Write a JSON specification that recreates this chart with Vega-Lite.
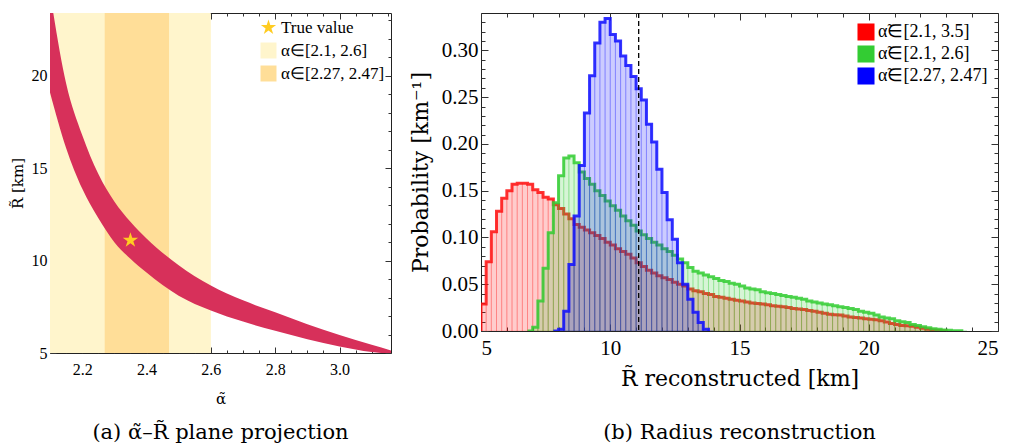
{
  "$schema": "https://vega.github.io/schema/vega-lite/v6.json",
  "padding": {"left": 9, "top": 11, "right": 2, "bottom": 2},
  "spacing": 16,
  "background": "white",
  "resolve": {"scale": {"color": "independent", "shape": "independent"}, "legend": {"color": "independent", "shape": "independent"}},
  "config": {
    "view": {"stroke": "#222", "strokeWidth": 1},
    "axis": {"grid": false, "domain": false, "tickColor": "#333", "tickWidth": 1, "labelColor": "#000", "titleColor": "#000", "titleFontWeight": "normal"}
  },
  "datasets": {
    "zones": [
      {"label": "α∈[2.1, 2.6]", "a0": 2.1, "a1": 2.6},
      {"label": "α∈[2.27, 2.47]", "a0": 2.27, "a1": 2.47}
    ],
    "truth": [{"label": "True value", "alpha": 2.35, "R": 11.1}],
    "band": [
      {"alpha": 2.1, "upper": 24.5, "lower": 19.1},
      {"alpha": 2.15, "upper": 19.6, "lower": 16.1},
      {"alpha": 2.2, "upper": 16.8, "lower": 13.9},
      {"alpha": 2.25, "upper": 14.7, "lower": 12.3},
      {"alpha": 2.3, "upper": 13.2, "lower": 11.0},
      {"alpha": 2.35, "upper": 12.1, "lower": 10.1},
      {"alpha": 2.4, "upper": 11.2, "lower": 9.35},
      {"alpha": 2.5, "upper": 9.75, "lower": 8.1},
      {"alpha": 2.6, "upper": 8.65, "lower": 7.3},
      {"alpha": 2.7, "upper": 7.85, "lower": 6.7},
      {"alpha": 2.8, "upper": 7.2, "lower": 6.2},
      {"alpha": 2.9, "upper": 6.55, "lower": 5.75},
      {"alpha": 3.0, "upper": 5.97, "lower": 5.35},
      {"alpha": 3.1, "upper": 5.45, "lower": 5.05},
      {"alpha": 3.16, "upper": 5.14, "lower": 4.96}
    ],
    "hist": [
      {"s": "α̃∈[2.1, 3.5]", "x0": 4.8, "x1": 5.0, "v": 0},
      {"s": "α̃∈[2.1, 3.5]", "x0": 5.0, "x1": 5.2, "v": 0.029},
      {"s": "α̃∈[2.1, 3.5]", "x0": 5.2, "x1": 5.4, "v": 0.074},
      {"s": "α̃∈[2.1, 3.5]", "x0": 5.4, "x1": 5.6, "v": 0.106},
      {"s": "α̃∈[2.1, 3.5]", "x0": 5.6, "x1": 5.8, "v": 0.128},
      {"s": "α̃∈[2.1, 3.5]", "x0": 5.8, "x1": 6.0, "v": 0.142},
      {"s": "α̃∈[2.1, 3.5]", "x0": 6.0, "x1": 6.2, "v": 0.150},
      {"s": "α̃∈[2.1, 3.5]", "x0": 6.2, "x1": 6.4, "v": 0.157},
      {"s": "α̃∈[2.1, 3.5]", "x0": 6.4, "x1": 6.6, "v": 0.158},
      {"s": "α̃∈[2.1, 3.5]", "x0": 6.6, "x1": 6.8, "v": 0.158},
      {"s": "α̃∈[2.1, 3.5]", "x0": 6.8, "x1": 7.0, "v": 0.157},
      {"s": "α̃∈[2.1, 3.5]", "x0": 7.0, "x1": 7.2, "v": 0.151},
      {"s": "α̃∈[2.1, 3.5]", "x0": 7.2, "x1": 7.4, "v": 0.148},
      {"s": "α̃∈[2.1, 3.5]", "x0": 7.4, "x1": 7.6, "v": 0.143},
      {"s": "α̃∈[2.1, 3.5]", "x0": 7.6, "x1": 7.8, "v": 0.141},
      {"s": "α̃∈[2.1, 3.5]", "x0": 7.8, "x1": 8.0, "v": 0.135},
      {"s": "α̃∈[2.1, 3.5]", "x0": 8.0, "x1": 8.2, "v": 0.131},
      {"s": "α̃∈[2.1, 3.5]", "x0": 8.2, "x1": 8.4, "v": 0.125},
      {"s": "α̃∈[2.1, 3.5]", "x0": 8.4, "x1": 8.6, "v": 0.120},
      {"s": "α̃∈[2.1, 3.5]", "x0": 8.6, "x1": 8.8, "v": 0.114},
      {"s": "α̃∈[2.1, 3.5]", "x0": 8.8, "x1": 9.0, "v": 0.111},
      {"s": "α̃∈[2.1, 3.5]", "x0": 9.0, "x1": 9.2, "v": 0.108},
      {"s": "α̃∈[2.1, 3.5]", "x0": 9.2, "x1": 9.4, "v": 0.105},
      {"s": "α̃∈[2.1, 3.5]", "x0": 9.4, "x1": 9.6, "v": 0.102},
      {"s": "α̃∈[2.1, 3.5]", "x0": 9.6, "x1": 9.8, "v": 0.099},
      {"s": "α̃∈[2.1, 3.5]", "x0": 9.8, "x1": 10.0, "v": 0.095},
      {"s": "α̃∈[2.1, 3.5]", "x0": 10.0, "x1": 10.2, "v": 0.092},
      {"s": "α̃∈[2.1, 3.5]", "x0": 10.2, "x1": 10.4, "v": 0.088},
      {"s": "α̃∈[2.1, 3.5]", "x0": 10.4, "x1": 10.6, "v": 0.085},
      {"s": "α̃∈[2.1, 3.5]", "x0": 10.6, "x1": 10.8, "v": 0.082},
      {"s": "α̃∈[2.1, 3.5]", "x0": 10.8, "x1": 11.0, "v": 0.078},
      {"s": "α̃∈[2.1, 3.5]", "x0": 11.0, "x1": 11.2, "v": 0.073},
      {"s": "α̃∈[2.1, 3.5]", "x0": 11.2, "x1": 11.4, "v": 0.069},
      {"s": "α̃∈[2.1, 3.5]", "x0": 11.4, "x1": 11.6, "v": 0.065},
      {"s": "α̃∈[2.1, 3.5]", "x0": 11.6, "x1": 11.8, "v": 0.062},
      {"s": "α̃∈[2.1, 3.5]", "x0": 11.8, "x1": 12.0, "v": 0.059},
      {"s": "α̃∈[2.1, 3.5]", "x0": 12.0, "x1": 12.2, "v": 0.057},
      {"s": "α̃∈[2.1, 3.5]", "x0": 12.2, "x1": 12.4, "v": 0.055},
      {"s": "α̃∈[2.1, 3.5]", "x0": 12.4, "x1": 12.6, "v": 0.052},
      {"s": "α̃∈[2.1, 3.5]", "x0": 12.6, "x1": 12.8, "v": 0.050},
      {"s": "α̃∈[2.1, 3.5]", "x0": 12.8, "x1": 13.0, "v": 0.048},
      {"s": "α̃∈[2.1, 3.5]", "x0": 13.0, "x1": 13.2, "v": 0.045},
      {"s": "α̃∈[2.1, 3.5]", "x0": 13.2, "x1": 13.4, "v": 0.043},
      {"s": "α̃∈[2.1, 3.5]", "x0": 13.4, "x1": 13.6, "v": 0.042},
      {"s": "α̃∈[2.1, 3.5]", "x0": 13.6, "x1": 13.8, "v": 0.040},
      {"s": "α̃∈[2.1, 3.5]", "x0": 13.8, "x1": 14.0, "v": 0.039},
      {"s": "α̃∈[2.1, 3.5]", "x0": 14.0, "x1": 14.2, "v": 0.037},
      {"s": "α̃∈[2.1, 3.5]", "x0": 14.2, "x1": 14.4, "v": 0.036},
      {"s": "α̃∈[2.1, 3.5]", "x0": 14.4, "x1": 14.6, "v": 0.035},
      {"s": "α̃∈[2.1, 3.5]", "x0": 14.6, "x1": 14.8, "v": 0.034},
      {"s": "α̃∈[2.1, 3.5]", "x0": 14.8, "x1": 15.0, "v": 0.033},
      {"s": "α̃∈[2.1, 3.5]", "x0": 15.0, "x1": 15.2, "v": 0.032},
      {"s": "α̃∈[2.1, 3.5]", "x0": 15.2, "x1": 15.4, "v": 0.031},
      {"s": "α̃∈[2.1, 3.5]", "x0": 15.4, "x1": 15.6, "v": 0.030},
      {"s": "α̃∈[2.1, 3.5]", "x0": 15.6, "x1": 15.8, "v": 0.0295},
      {"s": "α̃∈[2.1, 3.5]", "x0": 15.8, "x1": 16.0, "v": 0.029},
      {"s": "α̃∈[2.1, 3.5]", "x0": 16.0, "x1": 16.2, "v": 0.028},
      {"s": "α̃∈[2.1, 3.5]", "x0": 16.2, "x1": 16.4, "v": 0.027},
      {"s": "α̃∈[2.1, 3.5]", "x0": 16.4, "x1": 16.6, "v": 0.0265},
      {"s": "α̃∈[2.1, 3.5]", "x0": 16.6, "x1": 16.8, "v": 0.026},
      {"s": "α̃∈[2.1, 3.5]", "x0": 16.8, "x1": 17.0, "v": 0.025},
      {"s": "α̃∈[2.1, 3.5]", "x0": 17.0, "x1": 17.2, "v": 0.024},
      {"s": "α̃∈[2.1, 3.5]", "x0": 17.2, "x1": 17.4, "v": 0.0235},
      {"s": "α̃∈[2.1, 3.5]", "x0": 17.4, "x1": 17.6, "v": 0.023},
      {"s": "α̃∈[2.1, 3.5]", "x0": 17.6, "x1": 17.8, "v": 0.022},
      {"s": "α̃∈[2.1, 3.5]", "x0": 17.8, "x1": 18.0, "v": 0.021},
      {"s": "α̃∈[2.1, 3.5]", "x0": 18.0, "x1": 18.2, "v": 0.020},
      {"s": "α̃∈[2.1, 3.5]", "x0": 18.2, "x1": 18.4, "v": 0.019},
      {"s": "α̃∈[2.1, 3.5]", "x0": 18.4, "x1": 18.6, "v": 0.018},
      {"s": "α̃∈[2.1, 3.5]", "x0": 18.6, "x1": 18.8, "v": 0.0175},
      {"s": "α̃∈[2.1, 3.5]", "x0": 18.8, "x1": 19.0, "v": 0.017},
      {"s": "α̃∈[2.1, 3.5]", "x0": 19.0, "x1": 19.2, "v": 0.016},
      {"s": "α̃∈[2.1, 3.5]", "x0": 19.2, "x1": 19.4, "v": 0.015},
      {"s": "α̃∈[2.1, 3.5]", "x0": 19.4, "x1": 19.6, "v": 0.0145},
      {"s": "α̃∈[2.1, 3.5]", "x0": 19.6, "x1": 19.8, "v": 0.014},
      {"s": "α̃∈[2.1, 3.5]", "x0": 19.8, "x1": 20.0, "v": 0.013},
      {"s": "α̃∈[2.1, 3.5]", "x0": 20.0, "x1": 20.2, "v": 0.0125},
      {"s": "α̃∈[2.1, 3.5]", "x0": 20.2, "x1": 20.4, "v": 0.012},
      {"s": "α̃∈[2.1, 3.5]", "x0": 20.4, "x1": 20.6, "v": 0.011},
      {"s": "α̃∈[2.1, 3.5]", "x0": 20.6, "x1": 20.8, "v": 0.0095},
      {"s": "α̃∈[2.1, 3.5]", "x0": 20.8, "x1": 21.0, "v": 0.008},
      {"s": "α̃∈[2.1, 3.5]", "x0": 21.0, "x1": 21.2, "v": 0.007},
      {"s": "α̃∈[2.1, 3.5]", "x0": 21.2, "x1": 21.4, "v": 0.006},
      {"s": "α̃∈[2.1, 3.5]", "x0": 21.4, "x1": 21.6, "v": 0.0055},
      {"s": "α̃∈[2.1, 3.5]", "x0": 21.6, "x1": 21.8, "v": 0.005},
      {"s": "α̃∈[2.1, 3.5]", "x0": 21.8, "x1": 22.0, "v": 0.004},
      {"s": "α̃∈[2.1, 3.5]", "x0": 22.0, "x1": 22.2, "v": 0.003},
      {"s": "α̃∈[2.1, 3.5]", "x0": 22.2, "x1": 22.4, "v": 0.002},
      {"s": "α̃∈[2.1, 3.5]", "x0": 22.4, "x1": 22.6, "v": 0.0012},
      {"s": "α̃∈[2.1, 3.5]", "x0": 22.6, "x1": 22.8, "v": 0.0005},
      {"s": "α̃∈[2.1, 3.5]", "x0": 22.8, "x1": 23.0, "v": 0.0002},
      {"s": "α̃∈[2.1, 3.5]", "x0": 23.0, "x1": 23.2, "v": 0},
      {"s": "α̃∈[2.1, 2.6]", "x0": 6.8, "x1": 7.0, "v": 0},
      {"s": "α̃∈[2.1, 2.6]", "x0": 7.0, "x1": 7.2, "v": 0.004},
      {"s": "α̃∈[2.1, 2.6]", "x0": 7.2, "x1": 7.4, "v": 0.032},
      {"s": "α̃∈[2.1, 2.6]", "x0": 7.4, "x1": 7.6, "v": 0.067},
      {"s": "α̃∈[2.1, 2.6]", "x0": 7.6, "x1": 7.8, "v": 0.105},
      {"s": "α̃∈[2.1, 2.6]", "x0": 7.8, "x1": 8.0, "v": 0.137},
      {"s": "α̃∈[2.1, 2.6]", "x0": 8.0, "x1": 8.2, "v": 0.166},
      {"s": "α̃∈[2.1, 2.6]", "x0": 8.2, "x1": 8.4, "v": 0.185},
      {"s": "α̃∈[2.1, 2.6]", "x0": 8.4, "x1": 8.6, "v": 0.187},
      {"s": "α̃∈[2.1, 2.6]", "x0": 8.6, "x1": 8.8, "v": 0.180},
      {"s": "α̃∈[2.1, 2.6]", "x0": 8.8, "x1": 9.0, "v": 0.170},
      {"s": "α̃∈[2.1, 2.6]", "x0": 9.0, "x1": 9.2, "v": 0.163},
      {"s": "α̃∈[2.1, 2.6]", "x0": 9.2, "x1": 9.4, "v": 0.157},
      {"s": "α̃∈[2.1, 2.6]", "x0": 9.4, "x1": 9.6, "v": 0.150},
      {"s": "α̃∈[2.1, 2.6]", "x0": 9.6, "x1": 9.8, "v": 0.145},
      {"s": "α̃∈[2.1, 2.6]", "x0": 9.8, "x1": 10.0, "v": 0.139},
      {"s": "α̃∈[2.1, 2.6]", "x0": 10.0, "x1": 10.2, "v": 0.134},
      {"s": "α̃∈[2.1, 2.6]", "x0": 10.2, "x1": 10.4, "v": 0.129},
      {"s": "α̃∈[2.1, 2.6]", "x0": 10.4, "x1": 10.6, "v": 0.123},
      {"s": "α̃∈[2.1, 2.6]", "x0": 10.6, "x1": 10.8, "v": 0.118},
      {"s": "α̃∈[2.1, 2.6]", "x0": 10.8, "x1": 11.0, "v": 0.113},
      {"s": "α̃∈[2.1, 2.6]", "x0": 11.0, "x1": 11.2, "v": 0.107},
      {"s": "α̃∈[2.1, 2.6]", "x0": 11.2, "x1": 11.4, "v": 0.103},
      {"s": "α̃∈[2.1, 2.6]", "x0": 11.4, "x1": 11.6, "v": 0.099},
      {"s": "α̃∈[2.1, 2.6]", "x0": 11.6, "x1": 11.8, "v": 0.095},
      {"s": "α̃∈[2.1, 2.6]", "x0": 11.8, "x1": 12.0, "v": 0.092},
      {"s": "α̃∈[2.1, 2.6]", "x0": 12.0, "x1": 12.2, "v": 0.088},
      {"s": "α̃∈[2.1, 2.6]", "x0": 12.2, "x1": 12.4, "v": 0.085},
      {"s": "α̃∈[2.1, 2.6]", "x0": 12.4, "x1": 12.6, "v": 0.081},
      {"s": "α̃∈[2.1, 2.6]", "x0": 12.6, "x1": 12.8, "v": 0.077},
      {"s": "α̃∈[2.1, 2.6]", "x0": 12.8, "x1": 13.0, "v": 0.073},
      {"s": "α̃∈[2.1, 2.6]", "x0": 13.0, "x1": 13.2, "v": 0.068},
      {"s": "α̃∈[2.1, 2.6]", "x0": 13.2, "x1": 13.4, "v": 0.064},
      {"s": "α̃∈[2.1, 2.6]", "x0": 13.4, "x1": 13.6, "v": 0.062},
      {"s": "α̃∈[2.1, 2.6]", "x0": 13.6, "x1": 13.8, "v": 0.060},
      {"s": "α̃∈[2.1, 2.6]", "x0": 13.8, "x1": 14.0, "v": 0.058},
      {"s": "α̃∈[2.1, 2.6]", "x0": 14.0, "x1": 14.2, "v": 0.056},
      {"s": "α̃∈[2.1, 2.6]", "x0": 14.2, "x1": 14.4, "v": 0.054},
      {"s": "α̃∈[2.1, 2.6]", "x0": 14.4, "x1": 14.6, "v": 0.053},
      {"s": "α̃∈[2.1, 2.6]", "x0": 14.6, "x1": 14.8, "v": 0.051},
      {"s": "α̃∈[2.1, 2.6]", "x0": 14.8, "x1": 15.0, "v": 0.050},
      {"s": "α̃∈[2.1, 2.6]", "x0": 15.0, "x1": 15.2, "v": 0.048},
      {"s": "α̃∈[2.1, 2.6]", "x0": 15.2, "x1": 15.4, "v": 0.046},
      {"s": "α̃∈[2.1, 2.6]", "x0": 15.4, "x1": 15.6, "v": 0.045},
      {"s": "α̃∈[2.1, 2.6]", "x0": 15.6, "x1": 15.8, "v": 0.044},
      {"s": "α̃∈[2.1, 2.6]", "x0": 15.8, "x1": 16.0, "v": 0.042},
      {"s": "α̃∈[2.1, 2.6]", "x0": 16.0, "x1": 16.2, "v": 0.041},
      {"s": "α̃∈[2.1, 2.6]", "x0": 16.2, "x1": 16.4, "v": 0.040},
      {"s": "α̃∈[2.1, 2.6]", "x0": 16.4, "x1": 16.6, "v": 0.039},
      {"s": "α̃∈[2.1, 2.6]", "x0": 16.6, "x1": 16.8, "v": 0.038},
      {"s": "α̃∈[2.1, 2.6]", "x0": 16.8, "x1": 17.0, "v": 0.037},
      {"s": "α̃∈[2.1, 2.6]", "x0": 17.0, "x1": 17.2, "v": 0.036},
      {"s": "α̃∈[2.1, 2.6]", "x0": 17.2, "x1": 17.4, "v": 0.035},
      {"s": "α̃∈[2.1, 2.6]", "x0": 17.4, "x1": 17.6, "v": 0.034},
      {"s": "α̃∈[2.1, 2.6]", "x0": 17.6, "x1": 17.8, "v": 0.032},
      {"s": "α̃∈[2.1, 2.6]", "x0": 17.8, "x1": 18.0, "v": 0.031},
      {"s": "α̃∈[2.1, 2.6]", "x0": 18.0, "x1": 18.2, "v": 0.030},
      {"s": "α̃∈[2.1, 2.6]", "x0": 18.2, "x1": 18.4, "v": 0.029},
      {"s": "α̃∈[2.1, 2.6]", "x0": 18.4, "x1": 18.6, "v": 0.028},
      {"s": "α̃∈[2.1, 2.6]", "x0": 18.6, "x1": 18.8, "v": 0.027},
      {"s": "α̃∈[2.1, 2.6]", "x0": 18.8, "x1": 19.0, "v": 0.026},
      {"s": "α̃∈[2.1, 2.6]", "x0": 19.0, "x1": 19.2, "v": 0.025},
      {"s": "α̃∈[2.1, 2.6]", "x0": 19.2, "x1": 19.4, "v": 0.024},
      {"s": "α̃∈[2.1, 2.6]", "x0": 19.4, "x1": 19.6, "v": 0.023},
      {"s": "α̃∈[2.1, 2.6]", "x0": 19.6, "x1": 19.8, "v": 0.021},
      {"s": "α̃∈[2.1, 2.6]", "x0": 19.8, "x1": 20.0, "v": 0.020},
      {"s": "α̃∈[2.1, 2.6]", "x0": 20.0, "x1": 20.2, "v": 0.019},
      {"s": "α̃∈[2.1, 2.6]", "x0": 20.2, "x1": 20.4, "v": 0.017},
      {"s": "α̃∈[2.1, 2.6]", "x0": 20.4, "x1": 20.6, "v": 0.015},
      {"s": "α̃∈[2.1, 2.6]", "x0": 20.6, "x1": 20.8, "v": 0.014},
      {"s": "α̃∈[2.1, 2.6]", "x0": 20.8, "x1": 21.0, "v": 0.013},
      {"s": "α̃∈[2.1, 2.6]", "x0": 21.0, "x1": 21.2, "v": 0.011},
      {"s": "α̃∈[2.1, 2.6]", "x0": 21.2, "x1": 21.4, "v": 0.010},
      {"s": "α̃∈[2.1, 2.6]", "x0": 21.4, "x1": 21.6, "v": 0.009},
      {"s": "α̃∈[2.1, 2.6]", "x0": 21.6, "x1": 21.8, "v": 0.007},
      {"s": "α̃∈[2.1, 2.6]", "x0": 21.8, "x1": 22.0, "v": 0.006},
      {"s": "α̃∈[2.1, 2.6]", "x0": 22.0, "x1": 22.2, "v": 0.0045},
      {"s": "α̃∈[2.1, 2.6]", "x0": 22.2, "x1": 22.4, "v": 0.0035},
      {"s": "α̃∈[2.1, 2.6]", "x0": 22.4, "x1": 22.6, "v": 0.0025},
      {"s": "α̃∈[2.1, 2.6]", "x0": 22.6, "x1": 22.8, "v": 0.0018},
      {"s": "α̃∈[2.1, 2.6]", "x0": 22.8, "x1": 23.0, "v": 0.0012},
      {"s": "α̃∈[2.1, 2.6]", "x0": 23.0, "x1": 23.2, "v": 0.0008},
      {"s": "α̃∈[2.1, 2.6]", "x0": 23.2, "x1": 23.4, "v": 0.0004},
      {"s": "α̃∈[2.1, 2.6]", "x0": 23.4, "x1": 23.6, "v": 0.0002},
      {"s": "α̃∈[2.1, 2.6]", "x0": 23.6, "x1": 23.8, "v": 0},
      {"s": "α̃∈[2.27, 2.47]", "x0": 7.8, "x1": 8.0, "v": 0},
      {"s": "α̃∈[2.27, 2.47]", "x0": 8.0, "x1": 8.2, "v": 0.002},
      {"s": "α̃∈[2.27, 2.47]", "x0": 8.2, "x1": 8.4, "v": 0.021},
      {"s": "α̃∈[2.27, 2.47]", "x0": 8.4, "x1": 8.6, "v": 0.071},
      {"s": "α̃∈[2.27, 2.47]", "x0": 8.6, "x1": 8.8, "v": 0.123},
      {"s": "α̃∈[2.27, 2.47]", "x0": 8.8, "x1": 9.0, "v": 0.177},
      {"s": "α̃∈[2.27, 2.47]", "x0": 9.0, "x1": 9.2, "v": 0.233},
      {"s": "α̃∈[2.27, 2.47]", "x0": 9.2, "x1": 9.4, "v": 0.273},
      {"s": "α̃∈[2.27, 2.47]", "x0": 9.4, "x1": 9.6, "v": 0.308},
      {"s": "α̃∈[2.27, 2.47]", "x0": 9.6, "x1": 9.8, "v": 0.330},
      {"s": "α̃∈[2.27, 2.47]", "x0": 9.8, "x1": 10.0, "v": 0.334},
      {"s": "α̃∈[2.27, 2.47]", "x0": 10.0, "x1": 10.2, "v": 0.317},
      {"s": "α̃∈[2.27, 2.47]", "x0": 10.2, "x1": 10.4, "v": 0.310},
      {"s": "α̃∈[2.27, 2.47]", "x0": 10.4, "x1": 10.6, "v": 0.294},
      {"s": "α̃∈[2.27, 2.47]", "x0": 10.6, "x1": 10.8, "v": 0.284},
      {"s": "α̃∈[2.27, 2.47]", "x0": 10.8, "x1": 11.0, "v": 0.272},
      {"s": "α̃∈[2.27, 2.47]", "x0": 11.0, "x1": 11.2, "v": 0.259},
      {"s": "α̃∈[2.27, 2.47]", "x0": 11.2, "x1": 11.4, "v": 0.247},
      {"s": "α̃∈[2.27, 2.47]", "x0": 11.4, "x1": 11.6, "v": 0.221},
      {"s": "α̃∈[2.27, 2.47]", "x0": 11.6, "x1": 11.8, "v": 0.202},
      {"s": "α̃∈[2.27, 2.47]", "x0": 11.8, "x1": 12.0, "v": 0.173},
      {"s": "α̃∈[2.27, 2.47]", "x0": 12.0, "x1": 12.2, "v": 0.148},
      {"s": "α̃∈[2.27, 2.47]", "x0": 12.2, "x1": 12.4, "v": 0.119},
      {"s": "α̃∈[2.27, 2.47]", "x0": 12.4, "x1": 12.6, "v": 0.098},
      {"s": "α̃∈[2.27, 2.47]", "x0": 12.6, "x1": 12.8, "v": 0.073},
      {"s": "α̃∈[2.27, 2.47]", "x0": 12.8, "x1": 13.0, "v": 0.050},
      {"s": "α̃∈[2.27, 2.47]", "x0": 13.0, "x1": 13.2, "v": 0.034},
      {"s": "α̃∈[2.27, 2.47]", "x0": 13.2, "x1": 13.4, "v": 0.020},
      {"s": "α̃∈[2.27, 2.47]", "x0": 13.4, "x1": 13.6, "v": 0.009},
      {"s": "α̃∈[2.27, 2.47]", "x0": 13.6, "x1": 13.8, "v": 0.002},
      {"s": "α̃∈[2.27, 2.47]", "x0": 13.8, "x1": 14.0, "v": 0}
    ]
  },
  "hconcat": [
    {
      "width": 341,
      "height": 340,
      "title": {"text": "(a) α̃–R̃ plane projection", "orient": "bottom", "offset": 16, "font": "DejaVu Serif", "fontSize": 21, "fontWeight": "normal", "color": "#000", "anchor": "middle"},
      "resolve": {"axis": {"x": "independent", "y": "independent"}},
      "layer": [
        {
          "data": {"name": "zones"},
          "mark": {"type": "rect", "opacity": 1},
          "encoding": {
            "x": {"field": "a0", "type": "quantitative", "scale": {"domain": [2.1, 3.16], "nice": false, "zero": false}, "axis": null},
            "x2": {"field": "a1"},
            "color": {"field": "label", "type": "nominal",
              "scale": {"domain": ["True value", "α∈[2.1, 2.6]", "α∈[2.27, 2.47]"], "range": ["#FFCC22", "#FFF5CC", "#FFDE98"]},
              "legend": {"title": null, "orient": "top-right", "offset": 6, "padding": 0, "symbolSize": 256, "symbolStrokeWidth": 0, "symbolOpacity": 1, "labelFont": "Liberation Serif", "labelFontSize": 17, "labelColor": "#000", "rowPadding": 5, "labelOffset": 4}}
          }
        },
        {
          "data": {"name": "band"},
          "mark": {"type": "area", "interpolate": "monotone", "color": "#D7305A", "clip": true},
          "encoding": {
            "x": {"field": "alpha", "type": "quantitative", "scale": {"domain": [2.1, 3.16], "nice": false, "zero": false},
              "axis": {"orient": "bottom", "values": [2.15, 2.2, 2.25, 2.3, 2.35, 2.4, 2.45, 2.5, 2.55, 2.6, 2.65, 2.7, 2.75, 2.8, 2.85, 2.9, 2.95, 3.0, 3.05, 3.1, 3.15],
                "labelExpr": "round(datum.value*100) % 20 == 0 ? format(datum.value, '.1f') : ''",
                "tickSize": {"condition": {"test": "round(datum.value*100) % 20 == 0", "value": -6}, "value": -3},
                "labelPadding": 14, "labelFont": "Liberation Serif", "labelFontSize": 16,
                "title": "α̃", "titleFont": "DejaVu Serif", "titleFontSize": 15, "titlePadding": 14}},
            "y": {"field": "upper", "type": "quantitative", "scale": {"domain": [5, 23.4], "nice": false, "zero": false},
              "axis": {"orient": "left", "values": [5, 6, 7, 8, 9, 10, 11, 12, 13, 14, 15, 16, 17, 18, 19, 20, 21, 22, 23],
                "labelExpr": "datum.value % 5 == 0 ? datum.value : ''",
                "tickSize": {"condition": {"test": "datum.value % 5 == 0", "value": -6}, "value": -3},
                "labelPadding": 9, "labelFont": "Liberation Serif", "labelFontSize": 16,
                "title": "R̃ [km]", "titleFont": "DejaVu Serif", "titleFontSize": 15, "titlePadding": 6}},
            "y2": {"field": "lower"}
          }
        },
        {
          "data": {"name": "truth"},
          "mark": {"type": "point", "filled": true, "opacity": 1, "size": 260},
          "encoding": {
            "x": {"field": "alpha", "type": "quantitative",
              "axis": {"orient": "top", "values": [2.15, 2.2, 2.25, 2.3, 2.35, 2.4, 2.45, 2.5, 2.55, 2.6, 2.65, 2.7, 2.75, 2.8, 2.85, 2.9, 2.95, 3.0, 3.05, 3.1, 3.15], "labels": false, "title": null,
                "tickSize": {"condition": {"test": "round(datum.value*100) % 20 == 0", "value": -6}, "value": -3}}},
            "y": {"field": "R", "type": "quantitative",
              "axis": {"orient": "right", "values": [5, 6, 7, 8, 9, 10, 11, 12, 13, 14, 15, 16, 17, 18, 19, 20, 21, 22, 23], "labels": false, "title": null,
                "tickSize": {"condition": {"test": "datum.value % 5 == 0", "value": -6}, "value": -3}}},
            "color": {"field": "label", "type": "nominal"},
            "shape": {"field": "label", "type": "nominal",
              "scale": {"domain": ["True value", "α∈[2.1, 2.6]", "α∈[2.27, 2.47]"], "range": ["M0,-1L0.2245,-0.309L0.9511,-0.309L0.3633,0.118L0.5878,0.809L0,0.382L-0.5878,0.809L-0.3633,0.118L-0.9511,-0.309L-0.2245,-0.309Z", "square", "square"]},
              "legend": {"title": null, "orient": "top-right", "offset": 6, "padding": 0, "symbolSize": 256, "symbolStrokeWidth": 0, "symbolOpacity": 1, "labelFont": "Liberation Serif", "labelFontSize": 17, "labelColor": "#000", "rowPadding": 5, "labelOffset": 4}}
          }
        }
      ]
    },
    {
      "width": 517,
      "height": 318,
      "title": {"text": "(b) Radius reconstruction", "orient": "bottom", "offset": 33, "font": "DejaVu Serif", "fontSize": 21, "fontWeight": "normal", "color": "#000", "anchor": "middle"},
      "resolve": {"axis": {"x": "independent", "y": "independent"}},
      "layer": [
        {
          "data": {"name": "hist"},
          "transform": [{"filter": "datum.s == 'α̃∈[2.1, 3.5]'"}],
          "mark": {"type": "rect", "fillOpacity": 0.2, "stroke": "#FF0000", "strokeOpacity": 0.25, "strokeWidth": 0.8, "clip": true},
          "encoding": {
            "x": {"field": "x0", "type": "quantitative", "scale": {"domain": [5, 25], "nice": false, "zero": false},
              "axis": {"orient": "bottom", "values": [5, 6, 7, 8, 9, 10, 11, 12, 13, 14, 15, 16, 17, 18, 19, 20, 21, 22, 23, 24, 25],
                "labelExpr": "datum.value % 5 == 0 ? datum.value : ''",
                "tickSize": {"condition": {"test": "datum.value % 5 == 0", "value": -7}, "value": -4},
                "labelPadding": 13, "labelFont": "Liberation Serif", "labelFontSize": 21,
                "title": "R̃ reconstructed [km]", "titleFont": "DejaVu Serif", "titleFontSize": 22, "titlePadding": 10}},
            "x2": {"field": "x1"},
            "y": {"field": "v", "type": "quantitative", "scale": {"domain": [0, 0.34], "nice": false, "zero": true},
              "axis": {"orient": "left", "values": [0, 0.01, 0.02, 0.03, 0.04, 0.05, 0.06, 0.07, 0.08, 0.09, 0.1, 0.11, 0.12, 0.13, 0.14, 0.15, 0.16, 0.17, 0.18, 0.19, 0.2, 0.21, 0.22, 0.23, 0.24, 0.25, 0.26, 0.27, 0.28, 0.29, 0.3, 0.31, 0.32, 0.33],
                "labelExpr": "round(datum.value*100) % 5 == 0 ? format(datum.value, '.2f') : ''",
                "tickSize": {"condition": {"test": "round(datum.value*100) % 5 == 0", "value": -7}, "value": -4},
                "labelPadding": 10, "labelFont": "Liberation Serif", "labelFontSize": 21,
                "title": "Probability [km⁻¹]", "titleFont": "DejaVu Serif", "titleFontSize": 22, "titlePadding": 9}},
            "y2": {"datum": 0},
            "color": {"field": "s", "type": "nominal",
              "scale": {"domain": ["α̃∈[2.1, 3.5]", "α̃∈[2.1, 2.6]", "α̃∈[2.27, 2.47]"], "range": ["#FF0000", "#33CC33", "#0000FF"]},
              "legend": {"title": null, "orient": "top-right", "offset": 10, "padding": 0, "symbolType": "square", "symbolSize": 290, "symbolStrokeWidth": 0, "symbolOpacity": 1, "labelFont": "Liberation Serif", "labelFontSize": 18, "labelColor": "#000", "rowPadding": 4, "labelOffset": 3}}
          }
        },
        {
          "data": {"name": "hist"},
          "transform": [{"filter": "datum.s == 'α̃∈[2.1, 3.5]'"}],
          "mark": {"type": "line", "interpolate": "step-after", "color": "#FF1111", "strokeWidth": 3, "opacity": 0.85, "clip": true},
          "encoding": {
            "x": {"field": "x0", "type": "quantitative",
              "axis": {"orient": "top", "values": [5, 6, 7, 8, 9, 10, 11, 12, 13, 14, 15, 16, 17, 18, 19, 20, 21, 22, 23, 24, 25], "labels": false, "title": null,
                "tickSize": {"condition": {"test": "datum.value % 5 == 0", "value": -7}, "value": -4}}},
            "y": {"field": "v", "type": "quantitative",
              "axis": {"orient": "right", "values": [0, 0.01, 0.02, 0.03, 0.04, 0.05, 0.06, 0.07, 0.08, 0.09, 0.1, 0.11, 0.12, 0.13, 0.14, 0.15, 0.16, 0.17, 0.18, 0.19, 0.2, 0.21, 0.22, 0.23, 0.24, 0.25, 0.26, 0.27, 0.28, 0.29, 0.3, 0.31, 0.32, 0.33], "labels": false, "title": null,
                "tickSize": {"condition": {"test": "round(datum.value*100) % 5 == 0", "value": -7}, "value": -4}}}
          }
        },
        {
          "data": {"name": "hist"},
          "transform": [{"filter": "datum.s == 'α̃∈[2.1, 2.6]'"}],
          "mark": {"type": "rect", "fillOpacity": 0.2, "stroke": "#33CC33", "strokeOpacity": 0.3, "strokeWidth": 0.8, "clip": true},
          "encoding": {
            "x": {"field": "x0", "type": "quantitative", "axis": null},
            "x2": {"field": "x1"},
            "y": {"field": "v", "type": "quantitative", "axis": null},
            "y2": {"datum": 0},
            "color": {"field": "s", "type": "nominal"}
          }
        },
        {
          "data": {"name": "hist"},
          "transform": [{"filter": "datum.s == 'α̃∈[2.1, 2.6]'"}],
          "mark": {"type": "line", "interpolate": "step-after", "color": "#33CC33", "strokeWidth": 3, "opacity": 0.85, "clip": true},
          "encoding": {
            "x": {"field": "x0", "type": "quantitative", "axis": null},
            "y": {"field": "v", "type": "quantitative", "axis": null}
          }
        },
        {
          "data": {"name": "hist"},
          "transform": [{"filter": "datum.s == 'α̃∈[2.27, 2.47]'"}],
          "mark": {"type": "rect", "fillOpacity": 0.2, "stroke": "#0000FF", "strokeOpacity": 0.25, "strokeWidth": 0.8, "clip": true},
          "encoding": {
            "x": {"field": "x0", "type": "quantitative", "axis": null},
            "x2": {"field": "x1"},
            "y": {"field": "v", "type": "quantitative", "axis": null},
            "y2": {"datum": 0},
            "color": {"field": "s", "type": "nominal"}
          }
        },
        {
          "data": {"name": "hist"},
          "transform": [{"filter": "datum.s == 'α̃∈[2.27, 2.47]'"}],
          "mark": {"type": "line", "interpolate": "step-after", "color": "#1111FF", "strokeWidth": 3, "opacity": 0.85, "clip": true},
          "encoding": {
            "x": {"field": "x0", "type": "quantitative", "axis": null},
            "y": {"field": "v", "type": "quantitative", "axis": null}
          }
        },
        {
          "data": {"name": "truth"},
          "mark": {"type": "rule", "color": "#000", "strokeWidth": 1.3, "strokeDash": [5, 3]},
          "encoding": {
            "x": {"field": "R", "type": "quantitative", "axis": null}
          }
        }
      ]
    }
  ]
}
